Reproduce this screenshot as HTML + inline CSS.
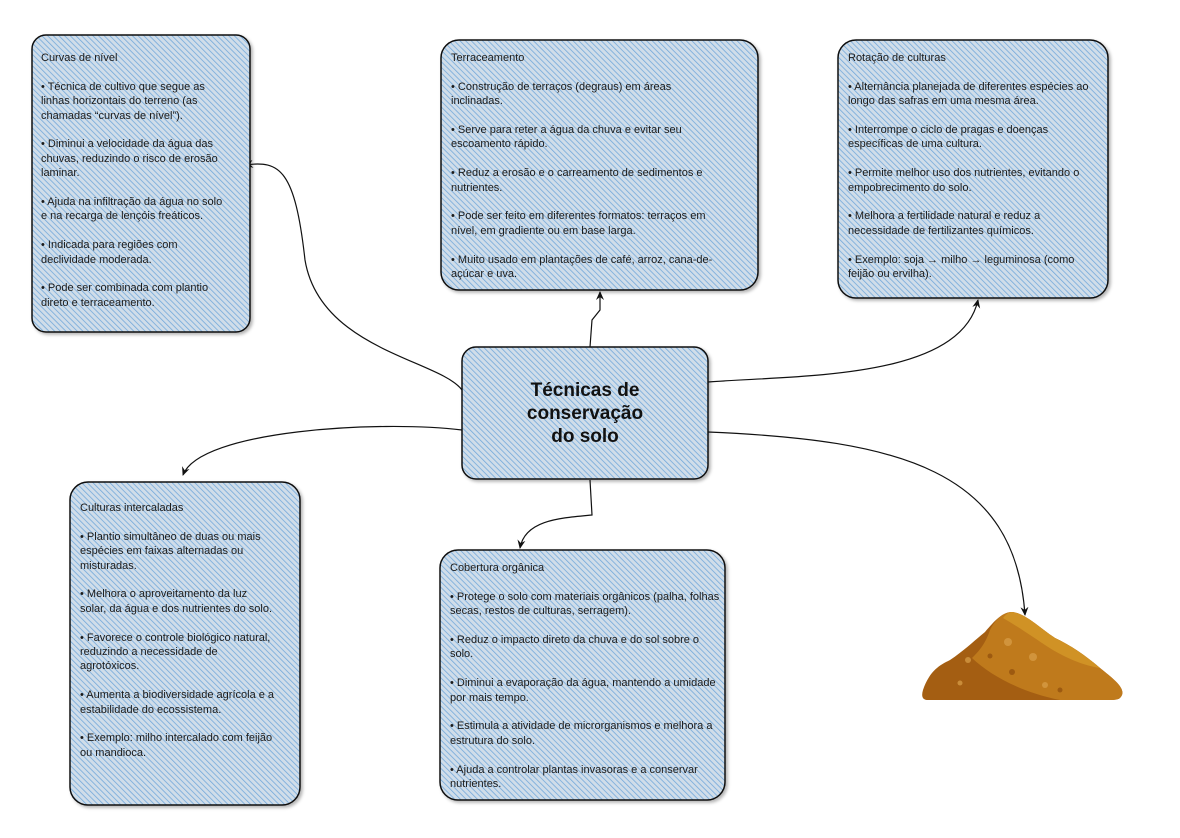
<!DOCTYPE html>
<html><head><meta charset="utf-8"><style>
body{margin:0;width:1180px;height:838px;background:#fff;position:relative;overflow:hidden;font-family:"Liberation Sans",sans-serif}
.t{position:absolute;font-size:11px;line-height:14.4px;color:#1a1a1a}
.t p{margin:0 0 14.4px 0}
.c{position:absolute;left:462px;top:347px;width:246px;height:132px;display:flex;align-items:center;justify-content:center;text-align:center;font-weight:bold;font-size:19px;line-height:23px;color:#111}
</style></head><body>
<svg width="1180" height="838" style="position:absolute;left:0;top:0">
<defs>
<pattern id="h" width="4" height="4" patternUnits="userSpaceOnUse" patternTransform="rotate(-45)">
<rect width="4" height="4" fill="#d0dde9"/><line x1="0" y1="0" x2="0" y2="4" stroke="#6ea6da" stroke-width="1.5"/>
</pattern>
<marker id="a" markerWidth="10" markerHeight="10" refX="8" refY="5" orient="auto" markerUnits="userSpaceOnUse"><path d="M0,1 L9,5 L0,9 L3,5z" fill="#111"/></marker>
<filter id="s"><feDropShadow dx="2" dy="2" stdDeviation="1.5" flood-opacity="0.3"/></filter>
</defs>
<g fill="none" stroke="#111" stroke-width="1.2">
<path d="M462,390 C440,360 320,350 305,260 C295,170 280,160 245,165" marker-end="url(#a)"/>
<path d="M590,347 L592,320 L600,310 L600,292" marker-end="url(#a)"/>
<path d="M708,382 C800,375 960,380 978,300" marker-end="url(#a)"/>
<path d="M462,430 C380,420 200,430 183,475" marker-end="url(#a)"/>
<path d="M590,480 L592,515 C560,518 525,520 520,548" marker-end="url(#a)"/>
<path d="M708,432 C900,440 1015,470 1025,615" marker-end="url(#a)"/>
</g>
<g fill="url(#h)" stroke="#111" stroke-width="1.5" filter="url(#s)">
<rect x="32" y="35" width="218" height="297" rx="14"/>
<rect x="441" y="40" width="317" height="250" rx="18"/>
<rect x="838" y="40" width="270" height="258" rx="18"/>
<rect x="462" y="347" width="246" height="132" rx="14"/>
<rect x="70" y="482" width="230" height="323" rx="18"/>
<rect x="440" y="550" width="285" height="250" rx="18"/>
</g>
<g>
<path d="M928,700 Q920,700 923,690 C930,670 940,665 950,660 C965,650 975,640 985,632 C995,620 1003,612 1012,612 C1025,613 1040,628 1055,638 C1070,645 1085,655 1100,668 C1115,680 1128,690 1120,698 Q1118,700 1110,700z" fill="#a45e12"/>
<path d="M990,630 C985,645 978,652 972,658 C990,675 1020,692 1060,700 L1110,700 Q1118,700 1120,698 C1128,690 1115,680 1100,668 C1085,655 1070,645 1055,638 C1040,628 1025,613 1012,612 C1003,612 995,620 990,630z" fill="#bf7a1c"/>
<path d="M1012,612 C1025,613 1040,628 1055,638 C1070,645 1085,655 1100,668 C1080,665 1060,655 1045,645 C1030,635 1020,628 1003,618 C1006,614 1009,612 1012,612z" fill="#d09225"/>
<g fill="#d9a04a" opacity="0.7"><circle cx="1008" cy="642" r="4"/><circle cx="1033" cy="657" r="4"/><circle cx="968" cy="660" r="3"/><circle cx="1045" cy="685" r="3"/><circle cx="960" cy="683" r="2.5"/></g>
<g fill="#8f4d0c" opacity="0.7"><circle cx="1012" cy="672" r="3"/><circle cx="990" cy="656" r="2.5"/><circle cx="1060" cy="690" r="2.5"/></g>
</g>
</svg>
<div class="t" style="left:41px;top:51px;width:188px"><p>Curvas de nível</p><p>• Técnica de cultivo que segue as linhas horizontais do terreno (as chamadas “curvas de nível”).</p><p>• Diminui a velocidade da água das chuvas, reduzindo o risco de erosão laminar.</p><p>• Ajuda na infiltração da água no solo e na recarga de lençóis freáticos.</p><p>• Indicada para regiões com declividade moderada.</p><p>• Pode ser combinada com plantio direto e terraceamento.</p></div>
<div class="t" style="left:451px;top:51px;width:270px"><p>Terraceamento</p><p>• Construção de terraços (degraus) em áreas inclinadas.</p><p>• Serve para reter a água da chuva e evitar seu escoamento rápido.</p><p>• Reduz a erosão e o carreamento de sedimentos e nutrientes.</p><p>• Pode ser feito em diferentes formatos: terraços em nível, em gradiente ou em base larga.</p><p>• Muito usado em plantações de café, arroz, cana-de-açúcar e uva.</p></div>
<div class="t" style="left:848px;top:51px;width:248px"><p>Rotação de culturas</p><p>• Alternância planejada de diferentes espécies ao longo das safras em uma mesma área.</p><p>• Interrompe o ciclo de pragas e doenças específicas de uma cultura.</p><p>• Permite melhor uso dos nutrientes, evitando o empobrecimento do solo.</p><p>• Melhora a fertilidade natural e reduz a necessidade de fertilizantes químicos.</p><p>• Exemplo: soja → milho → leguminosa (como feijão ou ervilha).</p></div>
<div class="t" style="left:80px;top:501px;width:196px"><p>Culturas intercaladas</p><p>• Plantio simultâneo de duas ou mais espécies em faixas alternadas ou misturadas.</p><p>• Melhora o aproveitamento da luz solar, da água e dos nutrientes do solo.</p><p>• Favorece o controle biológico natural, reduzindo a necessidade de agrotóxicos.</p><p>• Aumenta a biodiversidade agrícola e a estabilidade do ecossistema.</p><p>• Exemplo: milho intercalado com feijão ou mandioca.</p></div>
<div class="t" style="left:450px;top:561px;width:270px"><p>Cobertura orgânica</p><p>• Protege o solo com materiais orgânicos (palha, folhas secas, restos de culturas, serragem).</p><p>• Reduz o impacto direto da chuva e do sol sobre o solo.</p><p>• Diminui a evaporação da água, mantendo a umidade por mais tempo.</p><p>• Estimula a atividade de microrganismos e melhora a estrutura do solo.</p><p>• Ajuda a controlar plantas invasoras e a conservar nutrientes.</p></div>
<div class="c">Técnicas de<br>conservação<br>do solo</div>
</body></html>
